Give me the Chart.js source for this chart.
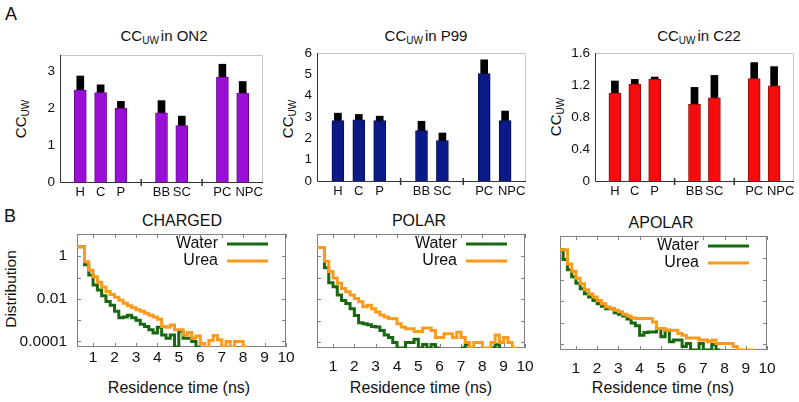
<!DOCTYPE html>
<html>
<head>
<meta charset="utf-8">
<script src="https://cdn.jsdelivr.net/npm/chart.js@4.4.1/dist/chart.umd.min.js"></script>
<style>
  body { margin: 0; background: #fff; }
  #fig { position: relative; width: 799px; height: 402px; overflow: hidden; font-family: 'Liberation Sans', Arial, sans-serif; color: #111; }
  canvas { position: absolute; }
  .t { position: absolute; transform: translate(-50%, -50%); white-space: nowrap; }
  .yl { position: absolute; transform: translate(-50%, -50%) rotate(-90deg); white-space: nowrap; }
  sub { font-size: 10px; vertical-align: -3px; line-height: 0; margin-right: 2px; }
</style>
</head>
<body>
<div id="fig">
  <div class="t" style="left:11px;top:14px;font-size:18px">A</div>
  <div class="t" style="left:10px;top:216px;font-size:18px">B</div>

  <div class="t" style="left:164px;top:35px;font-size:15px">CC<sub>UW</sub>in ON2</div>
  <div class="t" style="left:426px;top:35px;font-size:15px">CC<sub>UW</sub>in P99</div>
  <div class="t" style="left:699px;top:35px;font-size:15px">CC<sub>UW</sub>in C22</div>
  <div class="yl" style="left:20px;top:118px;font-size:15px">CC<sub>UW</sub></div>
  <div class="yl" style="left:287px;top:118px;font-size:15px">CC<sub>UW</sub></div>
  <div class="yl" style="left:555px;top:116px;font-size:15px">CC<sub>UW</sub></div>

  <div class="t" style="left:182px;top:221px;font-size:16px">CHARGED</div>
  <div class="t" style="left:419px;top:221px;font-size:16px">POLAR</div>
  <div class="t" style="left:661px;top:223px;font-size:16px">APOLAR</div>
  <div class="yl" style="left:11px;top:289px;font-size:15.5px">Distribution</div>
  <div class="t" style="left:179px;top:388px;font-size:16px">Residence time (ns)</div>
  <div class="t" style="left:421px;top:388px;font-size:16px">Residence time (ns)</div>
  <div class="t" style="left:663px;top:388px;font-size:16px">Residence time (ns)</div>

  <canvas id="on2" width="275" height="160" style="left:0px;top:40px"></canvas>
  <canvas id="p99" width="275" height="160" style="left:265px;top:40px"></canvas>
  <canvas id="c22" width="259" height="160" style="left:540px;top:40px"></canvas>
  <canvas id="charged" width="300" height="175" style="left:0px;top:225px"></canvas>
  <canvas id="polar" width="240" height="175" style="left:300px;top:225px"></canvas>
  <canvas id="apolar" width="259" height="175" style="left:540px;top:225px"></canvas>
</div>
<script>
Chart.defaults.font.family = "'Liberation Sans', Arial, sans-serif";
Chart.defaults.color = '#111';

// --- panel A: bar groups
const groups = ['H', 'C', 'P', 'BB', 'SC', 'PC', 'NPC'];
const groupSlots = [1, 2, 3, 5, 6, 8, 9];
const gapSlots = [4, 7];

const on2Mean = [2.50, 2.43, 2.00, 1.88, 1.53, 2.85, 2.41];
const on2Top  = [2.88, 2.64, 2.19, 2.21, 1.79, 3.20, 2.73];
const p99Mean = [2.83, 2.87, 2.83, 2.36, 1.89, 5.03, 2.83];
const p99Top  = [3.18, 3.12, 3.04, 2.80, 2.25, 5.68, 3.28];
const c22Mean = [1.10, 1.21, 1.27, 0.96, 1.04, 1.28, 1.19];
const c22Top  = [1.25, 1.27, 1.30, 1.17, 1.32, 1.48, 1.43];

// --- panel B: residence time histograms (left bin edges, ns); 0 = empty bin
const timeBins = [0.2, 0.4, 0.6, 0.8, 1.0, 1.2, 1.4, 1.6, 1.8, 2.0,
  2.2, 2.4, 2.6, 2.8, 3.0, 3.2, 3.4, 3.6, 3.8, 4.0,
  4.2, 4.4, 4.6, 4.8, 5.0, 5.2, 5.4, 5.6, 5.8, 6.0,
  6.2, 6.4, 6.6, 6.8, 7.0, 7.2, 7.4, 7.6, 7.8, 8.0,
  8.2, 8.4, 8.6, 8.8, 9.0, 9.2, 9.4, 9.6, 9.8, 10.0];

const chargedWater = [2.8, 2.8, 0.4, 0.13, 0.045, 0.026, 0.014, 0.0075, 0.005, 0.0026,
  0.0013, 0.0014, 0.0017, 0.0013, 0.001, 0.00065, 0.0005, 0.00035, 0.00025, 0.00047,
  0.0002, 0.00014, 0.0002, 0, 0.0003, 0.00014, 0.00014, 0.0001, 0, 0,
  null, null, null, null, null, null, null, null, null, null,
  null, null, null, null, null, null, null, null, null, null];
const chargedUrea = [2.8, 2.8, 0.55, 0.22, 0.11, 0.06, 0.036, 0.022, 0.016, 0.012,
  0.0085, 0.0062, 0.0048, 0.0038, 0.0031, 0.0026, 0.0021, 0.0017, 0.0014, 0.0011,
  0.0005, 0.00047, 0.0006, 0.00035, 0.00035, 0.0002, 0.00026, 0.00014, 0.00018, 0.00008,
  0, 0.00011, 0.00019, 0.00012, 0, 0.0001, 0, 0.0001, 0.0001, 0,
  0, null, null, null, null, null, null, null, null, null];

const polarWater = [2.6, 2.6, 0.3, 0.06, 0.039, 0.016, 0.009, 0.0064, 0.0037, 0.0018,
  0.00083, 0.00074, 0.00066, 0.00055, 0.00052, 0.00036, 0.00022, 0.00017, 0.0001, 0,
  0, 0.0001, 0.0001, 0.00014, 0, 0.00008, 0, 0.00008, 0, 0,
  null, null, null, null, 0, 0.00008, 0, null, null, null,
  null, 0, 0.00008, 0, null, null, null, null, null, null];
const polarUrea = [2.6, 2.6, 0.6, 0.2, 0.1, 0.056, 0.032, 0.023, 0.016, 0.011,
  0.0077, 0.0045, 0.0053, 0.0037, 0.0026, 0.0019, 0.0015, 0.0013, 0.00127, 0.00074,
  0.00052, 0.00043, 0.00043, 0.00032, 0.00032, 0.00047, 0.00047, 0.00036, 0.00017, 0.00017,
  0.00025, 0.00025, 0.00017, 0.0003, 0.00017, 0.0001, 0, 0.0001, 0.0001, 0,
  0, 0.0001, 0.00022, 0.0001, 0.00017, 0.0001, 0, 0, null, null];

const apolarWater = [2.5, 0.9, 0.3, 0.14, 0.07, 0.039, 0.023, 0.016, 0.011, 0.0078,
  0.0059, 0.0046, 0.0046, 0.003, 0.0025, 0.0021, 0.0015, 0.001, 0.00073, 0.00027,
  0.00036, 0.00038, 0.00038, 0.00055, 0.00023, 0.00046, 0.000134, 0.00016, 0.00016, 0.00008,
  0.00011, 0, 0, 0.00011, 0, 0, 0.0001, 0, 0, null,
  null, null, null, null, null, null, null, null, null, null];
const apolarUrea = [2.5, 2.5, 0.55, 0.25, 0.12, 0.066, 0.035, 0.022, 0.016, 0.011,
  0.0078, 0.0055, 0.0048, 0.0039, 0.0033, 0.0025, 0.0021, 0.0017, 0.0016, 0.0016,
  0.0016, 0.0016, 0.0011, 0.00055, 0.00055, 0.00046, 0.00046, 0.00046, 0.00032, 0.00027,
  0.0002, 0.0002, 0.0002, 0.00016, 0.00016, 0.000134, 0.00016, 0.00011, 0.00011, 0.00011,
  0.00011, 0.00008, 0, 0, 0, 0, 0, null, null, null];

const timeTicks = [1, 2, 3, 4, 5, 6, 7, 8, 9, 10];
const distTicks = [0.0001, 0.001, 0.01, 0.1, 1];
const distLabels = { 1: '1', 0.01: '0.01', 0.0001: '0.0001' };
const distFloor = 5.5e-5;
const distCeil = 11;

const waterColor = '#17680f';
const ureaColor = '#fb9a1c';

// fixed axis sizes, no extra label padding, so the plot frames land where wanted
function fixY(width) {
  return s => { s.width = width; s.paddingTop = 0; s.paddingBottom = 0; };
}
function fixX(height) {
  return s => { s.height = height; s.paddingLeft = 0; s.paddingRight = 0; };
}

const barFrame = {
  id: 'barFrame',
  afterDraw(chart) {
    const { ctx, chartArea: a, scales: { x } } = chart;
    ctx.save();
    ctx.lineWidth = 1;
    ctx.strokeStyle = '#c8c8c8';
    ctx.beginPath();
    ctx.moveTo(a.left, a.top + 0.5);
    ctx.lineTo(a.right - 0.5, a.top + 0.5);
    ctx.lineTo(a.right - 0.5, a.bottom);
    ctx.stroke();
    ctx.strokeStyle = '#333';
    ctx.beginPath();
    ctx.moveTo(a.left + 0.5, a.top);
    ctx.lineTo(a.left + 0.5, a.bottom + 0.5);
    ctx.lineTo(a.right, a.bottom + 0.5);
    ctx.stroke();
    ctx.lineWidth = 1.5;
    gapSlots.forEach(s => {
      const px = x.getPixelForValue(s);
      ctx.beginPath();
      ctx.moveTo(px, a.bottom - 3);
      ctx.lineTo(px, a.bottom + 4);
      ctx.stroke();
    });
    ctx.restore();
  }
};

// the last label sits a little right of its bar in the original
function slotLabel(v) {
  const i = groupSlots.indexOf(v);
  return (i === groups.length - 1 ? '\u2003' : '') + groups[i];
}

function barPanel(id, means, tops, color, edge, yMax, yStep, yWidth, xHeight, pad) {
  new Chart(document.getElementById(id), {
    type: 'bar',
    data: {
      datasets: [
        {
          data: groupSlots.map((s, i) => ({ x: s, y: means[i] })),
          backgroundColor: color, borderColor: edge, borderWidth: 1,
          barThickness: 12, grouped: false
        },
        {
          data: groupSlots.map((s, i) => ({ x: s, y: [means[i], tops[i]] })),
          backgroundColor: '#000', barThickness: 7, grouped: false
        }
      ]
    },
    options: {
      responsive: false,
      animation: false,
      events: [],
      layout: { padding: pad },
      plugins: { legend: { display: false }, tooltip: { enabled: false } },
      scales: {
        x: {
          type: 'linear', min: 0, max: 10, offset: false,
          grid: { display: false, drawTicks: false }, border: { display: false },
          afterBuildTicks: s => { s.ticks = groupSlots.map(v => ({ value: v })); },
          afterFit: fixX(xHeight),
          ticks: {
            padding: 3, font: { size: 13 }, color: '#111', maxRotation: 0, autoSkip: false,
            callback: slotLabel
          }
        },
        y: {
          min: 0, max: yMax,
          grid: { display: false, drawTicks: false }, border: { display: false },
          afterFit: fixY(yWidth),
          ticks: { stepSize: yStep, includeBounds: false, padding: 5, font: { size: 13.5 }, color: '#111' }
        }
      }
    },
    plugins: [barFrame]
  });
}

barPanel('on2', on2Mean, on2Top, '#9a0fd6', '#6a0a95', 3.45, 1, 60, 18, { top: 15, right: 12 });
barPanel('p99', p99Mean, p99Top, '#0b1a87', '#06104f', 6, 1, 52, 19, { top: 13, right: 14 });
barPanel('c22', c22Mean, c22Top, '#f50d0d', '#a00808', 1.6, 0.4, 55, 19, { top: 13, right: 5 });

const stepFrame = {
  id: 'stepFrame',
  beforeDatasetsDraw(chart) {
    const { ctx, chartArea: a, scales: { x, y } } = chart;
    ctx.save();
    ctx.strokeStyle = '#808080';
    ctx.lineWidth = 1;
    ctx.strokeRect(a.left + 0.5, a.top + 0.5, a.right - a.left - 1, a.bottom - a.top - 1);
    ctx.beginPath();
    x.ticks.forEach(t => {
      const p = Math.round(x.getPixelForValue(t.value)) + 0.5;
      ctx.moveTo(p, a.bottom); ctx.lineTo(p, a.bottom - 4);
      ctx.moveTo(p, a.top); ctx.lineTo(p, a.top + 4);
    });
    y.ticks.forEach(t => {
      const p = Math.round(y.getPixelForValue(t.value)) + 0.5;
      ctx.moveTo(a.left, p); ctx.lineTo(a.left + 4, p);
      ctx.moveTo(a.right, p); ctx.lineTo(a.right - 4, p);
    });
    ctx.stroke();
    ctx.restore();
  },
  afterDraw(chart) {
    const { ctx, chartArea: a } = chart;
    ctx.save();
    ctx.font = "16px 'Liberation Sans', Arial, sans-serif";
    ctx.textAlign = 'right';
    ctx.textBaseline = 'middle';
    ctx.lineWidth = 3;
    chart.data.datasets.slice().sort((p, q) => q.order - p.order).forEach((ds, i) => {
      const yy = a.top + 10 + i * 17;
      ctx.fillStyle = '#111';
      ctx.fillText(ds.label, a.right - 68, yy);
      ctx.strokeStyle = ds.borderColor;
      ctx.beginPath();
      ctx.moveTo(a.right - 59, yy);
      ctx.lineTo(a.right - 18, yy);
      ctx.stroke();
    });
    ctx.restore();
  }
};

function toPoints(values) {
  return timeBins.map((t, i) => ({ x: t, y: values[i] === null ? null : (values[i] === 0 ? distFloor : values[i]) }));
}

function stepPanel(id, water, urea, showY, yWidth, xHeight, xPad, pad) {
  new Chart(document.getElementById(id), {
    type: 'line',
    data: {
      datasets: [
        { label: 'Water', data: toPoints(water), borderColor: waterColor, order: 1 },
        { label: 'Urea', data: toPoints(urea), borderColor: ureaColor, order: 0 }
      ]
    },
    options: {
      responsive: false,
      animation: false,
      events: [],
      layout: { padding: pad },
      elements: {
        line: { stepped: 'before', borderWidth: 3, fill: false, borderCapStyle: 'butt', borderJoinStyle: 'miter' },
        point: { radius: 0 }
      },
      plugins: { legend: { display: false }, tooltip: { enabled: false } },
      scales: {
        x: {
          type: 'linear', min: 0.25, max: 10,
          grid: { display: false, drawTicks: false }, border: { display: false },
          afterBuildTicks: s => { s.ticks = timeTicks.map(v => ({ value: v })); },
          afterFit: fixX(xHeight),
          ticks: { padding: xPad, font: { size: 15.5 }, color: '#111', maxRotation: 0, autoSkip: false }
        },
        y: {
          type: 'logarithmic', min: distFloor, max: distCeil,
          grid: { display: false, drawTicks: false }, border: { display: false },
          afterBuildTicks: s => { s.ticks = distTicks.map(v => ({ value: v })); },
          afterFit: fixY(yWidth),
          ticks: { display: showY, padding: 10, font: { size: 15.5 }, color: '#111', autoSkip: false,
                   callback: v => distLabels[v] || '' }
        }
      }
    },
    plugins: [stepFrame]
  });
}

stepPanel('charged', chargedWater, chargedUrea, true, 77, 53, 1, { top: 9, right: 14 });
stepPanel('polar', polarWater, polarUrea, false, 17, 52, 9, { top: 9, right: 15 });
stepPanel('apolar', apolarWater, apolarUrea, false, 20, 50, 9, { top: 11, right: 32 });
</script>
</body>
</html>
